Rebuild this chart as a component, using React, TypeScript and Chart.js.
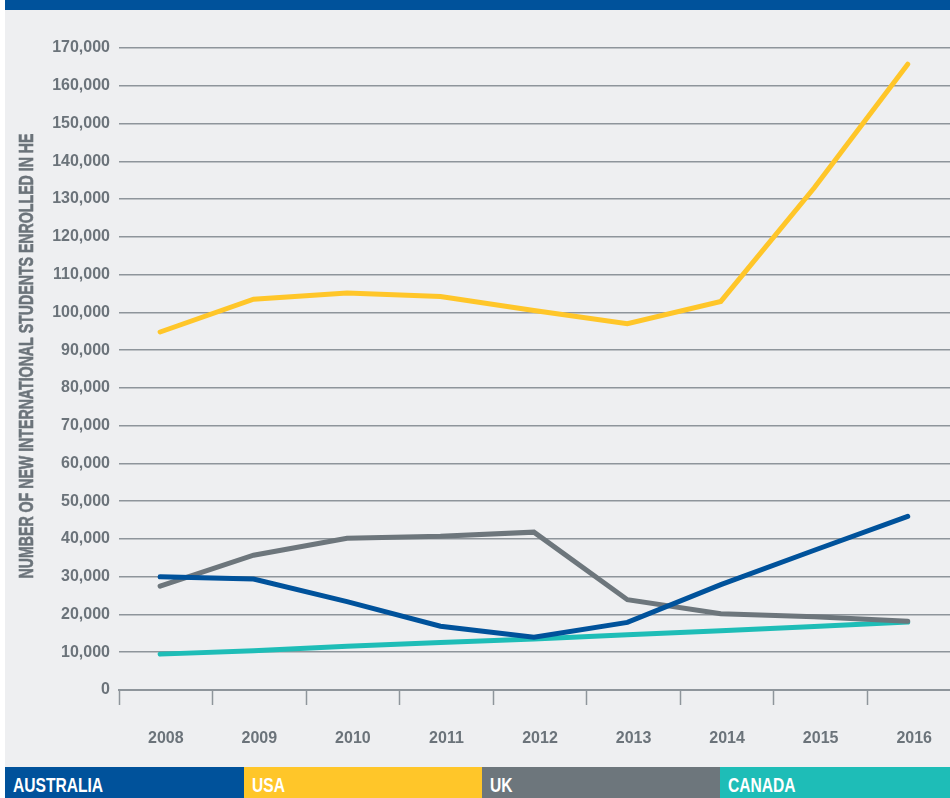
import { useEffect, useRef } from 'react';
import { Chart, registerables } from 'chart.js';

Chart.register(...registerables);

// ---- data ----
const YEARS = ['2008', '2009', '2010', '2011', '2012', '2013', '2014', '2015', '2016'];
const AUSTRALIA = [30000, 29400, 23400, 16900, 14000, 17900, 27900, 37000, 46000];
const USA = [94800, 103500, 105100, 104200, 100500, 97000, 102900, 133000, 165700];
const UK = [27500, 35700, 40200, 40700, 41800, 23900, 20200, 19400, 18200];
const CANADA = [9500, 10400, 11600, 12600, 13500, 14600, 15700, 16800, 18000];
const SERIES_NAMES = ['AUSTRALIA', 'USA', 'UK', 'CANADA'];
const Y_MAX = 170000;
const Y_STEP = 10000;
const Y_TITLE = 'NUMBER OF NEW INTERNATIONAL STUDENTS ENROLLED IN HE';

// ---- styling ----
const SERIES_COLORS = ['#00529B', '#FFC629', '#6D767C', '#1EBDB7'];
const BG = '#EEEFF1';
const GRID = '#8E959B';
const TEXT = '#6B737A';
const FONT = "'Liberation Sans', Arial, sans-serif";
const CANVAS_W = 980;
const CANVAS_H = 757;
const TITLE_X = 22;
const TITLE_CY = 346;
const TITLE_LEN = 445;
const XD_MIN = 2007.56;
const XD_MAX = 2016.57;

const titlePlugin = {
  id: 'ytitle',
  afterDraw(chart: any) {
    const ctx = chart.ctx;
    ctx.save();
    ctx.translate(TITLE_X, TITLE_CY);
    ctx.rotate(-Math.PI / 2);
    ctx.font = `bold 20px ${FONT}`;
    const w = ctx.measureText(Y_TITLE).width;
    ctx.scale(TITLE_LEN / w, 1);
    ctx.fillStyle = TEXT;
    ctx.strokeStyle = TEXT;
    ctx.lineWidth = 0.6;
    ctx.textAlign = 'center';
    ctx.textBaseline = 'middle';
    ctx.fillText(Y_TITLE, 0, 0);
    ctx.strokeText(Y_TITLE, 0, 0);
    ctx.restore();
  },
};

export default function App() {
  const ref = useRef<HTMLCanvasElement | null>(null);

  useEffect(() => {
    document.body.style.margin = '0';
    const canvas = ref.current;
    if (!canvas) return;
    const seriesValues = [AUSTRALIA, USA, UK, CANADA];
    const chart = new Chart(canvas, {
      type: 'line',
      data: {
        labels: YEARS,
        datasets: seriesValues.map((vals, i) => ({
          label: SERIES_NAMES[i],
          data: YEARS.map((yr, j) => ({ x: Number(yr), y: vals[j] })),
          xAxisID: 'xd',
          yAxisID: 'y',
          borderColor: SERIES_COLORS[i],
          backgroundColor: SERIES_COLORS[i],
          borderWidth: 5,
          borderCapStyle: 'round',
          borderJoinStyle: 'miter',
          pointRadius: 0,
          pointHoverRadius: 0,
          tension: 0,
          fill: false,
        })),
      },
      options: {
        animation: false,
        responsive: false,
        devicePixelRatio: 1,
        layout: { padding: { top: 38, right: CANVAS_W - 956, bottom: 0, left: 0 } },
        plugins: { legend: { display: false }, tooltip: { enabled: false } },
        scales: {
          x: {
            type: 'category',
            position: 'bottom',
            offset: true,
            grid: {
              offset: true,
              drawOnChartArea: false,
              drawTicks: true,
              tickLength: 15,
              tickColor: GRID,
              tickWidth: 1.5,
            },
            border: { display: true, color: GRID, width: 2 },
            ticks: {
              color: TEXT,
              font: { family: FONT, size: 16, weight: 'bold' },
              padding: 24,
              maxRotation: 0,
              autoSkip: false,
            },
            afterFit(scale: any) {
              scale.height = 77;
            },
          },
          xd: {
            type: 'linear',
            display: false,
            min: XD_MIN,
            max: XD_MAX,
          },
          y: {
            type: 'linear',
            min: 0,
            max: Y_MAX,
            grid: { color: GRID, lineWidth: 1.5, drawTicks: false },
            border: { display: false },
            ticks: {
              stepSize: Y_STEP,
              color: TEXT,
              padding: 9,
              font: { family: FONT, size: 16, weight: 'bold' },
              callback: (v: any) => Number(v).toLocaleString('en-US'),
            },
            afterFit(scale: any) {
              scale.width = 114;
            },
          },
        },
      },
      plugins: [titlePlugin],
    } as any);
    return () => chart.destroy();
  }, []);

  const widths = [239, 238, 238, 230];
  let left = 5;
  const blocks = SERIES_NAMES.map((name, i) => {
    const el = (
      <div
        key={name}
        style={{
          position: 'absolute',
          left,
          top: 767,
          width: widths[i],
          height: 31,
          background: SERIES_COLORS[i],
          color: '#FFFFFF',
          fontFamily: FONT,
          fontWeight: 'bold',
          fontSize: 20,
          lineHeight: '20px',
          paddingTop: 8,
          paddingLeft: 8,
          boxSizing: 'border-box',
          overflow: 'hidden',
          whiteSpace: 'nowrap',
        }}
      >
        <span style={{ display: 'inline-block', transform: 'scaleX(0.78)', transformOrigin: 'left center' }}>{name}</span>
      </div>
    );
    left += widths[i];
    return el;
  });

  return (
    <div style={{ position: 'relative', width: 950, height: 798, overflow: 'hidden', background: '#FFFFFF' }}>
      <div style={{ position: 'absolute', left: 5, top: 0, width: 945, height: 10, background: '#00529B' }} />
      <div style={{ position: 'absolute', left: 5, top: 10, width: 945, height: CANVAS_H, overflow: 'hidden', background: BG }}>
        <canvas ref={ref} width={CANVAS_W} height={CANVAS_H} style={{ width: CANVAS_W, height: CANVAS_H, display: 'block' }} />
      </div>
      {blocks}
    </div>
  );
}
